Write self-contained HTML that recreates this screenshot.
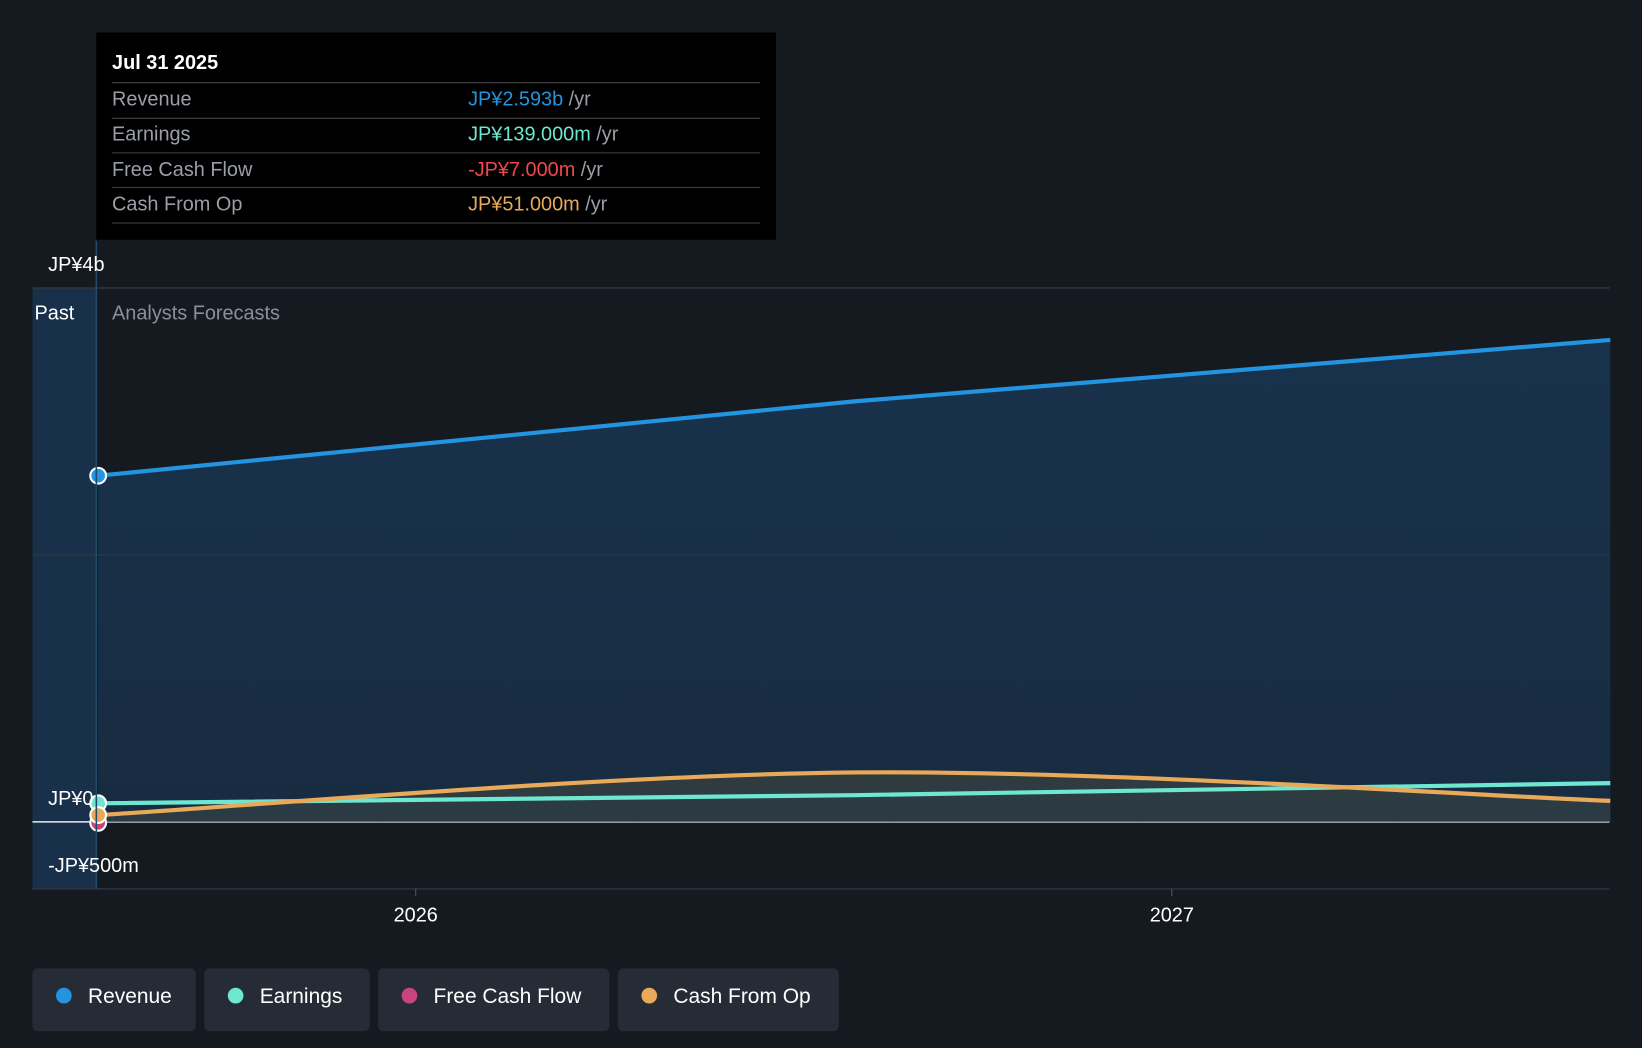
<!DOCTYPE html>
<html><head><meta charset="utf-8"><style>
html,body{margin:0;padding:0;background:#151a21;}
svg{display:block;font-family:"Liberation Sans",Roboto,sans-serif;}
</style></head><body>
<svg id="c" width="1642" height="1048" viewBox="0 0 1568 1001" preserveAspectRatio="none" xmlns="http://www.w3.org/2000/svg">
<defs>
<linearGradient id="revg" x1="0" y1="0" x2="0" y2="1"><stop offset="0" stop-color="#1a3a5a" stop-opacity="0.75"/><stop offset="1" stop-color="#1a3a5a" stop-opacity="0.55"/></linearGradient>
<linearGradient id="cfg" x1="0" y1="0" x2="0" y2="1"><stop offset="0" stop-color="#4a4a3a" stop-opacity="0.5"/><stop offset="1" stop-color="#3a4a4a" stop-opacity="0.5"/></linearGradient>
</defs>
<rect width="1568" height="1001" fill="#151a21"/>
<rect x="31" y="275" width="61" height="574" fill="#18304a"/>
<g id="grid"></g>
<g id="marks"></g>
<line x1="92" y1="230" x2="92" y2="849" stroke="#234a68" stroke-width="1.5"/>
<text x="33" y="305" fill="#fff" font-size="19">Past</text>
<text x="107" y="305" fill="#8a8f98" font-size="19">Analysts Forecasts</text>
<g id="axis"></g>
<g>
<rect x="92" y="31" width="649" height="198" fill="#000"/>
<text x="107" y="66" fill="#fff" font-size="19" font-weight="bold">Jul 31 2025</text>
<line x1="107" y1="79" x2="726" y2="79" stroke="#444"/>
<text x="107" y="101" fill="#9a9ea6" font-size="19">Revenue</text>
<text x="447" y="101" font-size="19"><tspan fill="#2394df">JP¥2.593b</tspan><tspan fill="#9a9ea6"> /yr</tspan></text>
<line x1="107" y1="113" x2="726" y2="113" stroke="#444"/>
<text x="107" y="134" fill="#9a9ea6" font-size="19">Earnings</text>
<text x="447" y="134" font-size="19"><tspan fill="#6ee7d0">JP¥139.000m</tspan><tspan fill="#9a9ea6"> /yr</tspan></text>
<line x1="107" y1="146" x2="726" y2="146" stroke="#444"/>
<text x="107" y="168" fill="#9a9ea6" font-size="19">Free Cash Flow</text>
<text x="447" y="168" font-size="19"><tspan fill="#f0474a">-JP¥7.000m</tspan><tspan fill="#9a9ea6"> /yr</tspan></text>
<line x1="107" y1="179" x2="726" y2="179" stroke="#444"/>
<text x="107" y="201" fill="#9a9ea6" font-size="19">Cash From Op</text>
<text x="447" y="201" font-size="19"><tspan fill="#e8aa5a">JP¥51.000m</tspan><tspan fill="#9a9ea6"> /yr</tspan></text>
<line x1="107" y1="213" x2="726" y2="213" stroke="#444"/>
</g>
<g id="legend"></g>
</svg>
<script>
const dates = [2025.58, 2026.58, 2027.58];
const revenue = [2.593, 3.15, 3.61];
const earnings = [0.139, 0.20, 0.29];
const cashFromOp = [0.051, 0.37, 0.157];
const fcfDates = [2025.58];
const fcf = [-0.007];
const yTicks = [4, 2, 0, -0.5];
const yTickLabels = ["JP¥4b", "", "JP¥0", "-JP¥500m"];
const xTicks = [2026, 2027];
const legendNames = ["Revenue", "Earnings", "Free Cash Flow", "Cash From Op"];
const legendColors = ["#2394df", "#6ee7d0", "#c8447f", "#e8aa5a"];

const NS = "http://www.w3.org/2000/svg";
const X = d => 397 + (d - 2026) * 722;
const Y = v => 785 - v * 127.5;
function mk(tag, attrs, parent){const e=document.createElementNS(NS,tag);for(const k in attrs)e.setAttribute(k,attrs[k]);parent.appendChild(e);return e;}
const grid=document.getElementById('grid'), marks=document.getElementById('marks'), axis=document.getElementById('axis'), legend=document.getElementById('legend');

yTicks.forEach((t,i)=>{
  if(t===-0.5) return;
  const l=mk('line',{x1:31,x2:1537,y1:Y(t),y2:Y(t),stroke:t===0?'#e8ecf0':'#2c3440','stroke-width':1.5},grid);
  
  
});
yTicks.forEach((t,i)=>{
  if(!yTickLabels[i]) return;
  const y = t===-0.5 ? 833 : Y(t)-16;
  const tx=mk('text',{x:46,y:y,fill:'#fff','font-size':19},axis);
  tx.textContent=yTickLabels[i];
  
  
});
mk('line',{x1:31,x2:1537,y1:849,y2:849,stroke:'#2c3440','stroke-width':1.5},grid);
xTicks.forEach(t=>{
  mk('line',{x1:X(t),x2:X(t),y1:849,y2:856,stroke:'#555'},axis);
  const tx=mk('text',{x:X(t),y:880,fill:'#fff','font-size':19,'text-anchor':'middle'},axis);
  tx.textContent=String(t);
  
  
});

function curve(ds, vs){
  const p=ds.map((d,i)=>[X(d),Y(vs[i])]);
  let s=`M${p[0][0]},${p[0][1]}`;
  for(let i=0;i<p.length-1;i++){
    const p0=p[i-1]||p[i], p1=p[i], p2=p[i+1], p3=p[i+2]||p2;
    const c1=[p1[0]+(p2[0]-p0[0])/6, p1[1]+(p2[1]-p0[1])/6];
    const c2=[p2[0]-(p3[0]-p1[0])/6, p2[1]-(p3[1]-p1[1])/6];
    s+=` C${c1[0]},${c1[1]} ${c2[0]},${c2[1]} ${p2[0]},${p2[1]}`;
  }
  return s;
}
function linear(ds,vs){return ds.map((d,i)=>(i?'L':'M')+X(d)+','+Y(vs[i])).join(' ');}
const x0=X(dates[0]), x1=X(dates[dates.length-1]);
const ra=mk('path',{d:linear(dates,revenue)+` L${x1},${Y(0)} L${x0},${Y(0)} Z`,fill:'url(#revg)'},marks);


const ca=mk('path',{d:curve(dates,cashFromOp)+` L${x1},${Y(0)} L${x0},${Y(0)} Z`,fill:'url(#cfg)'},marks);


const rl=mk('path',{d:linear(dates,revenue),fill:'none',stroke:'#2394df','stroke-width':4},marks);


const el=mk('path',{d:linear(dates,earnings),fill:'none',stroke:'#6ee7d0','stroke-width':4},marks);


const cl=mk('path',{d:curve(dates,cashFromOp),fill:'none',stroke:'#e8aa5a','stroke-width':4},marks);


function dot(x,y,c,name){const d=mk('circle',{cx:x,cy:y,r:7.5,fill:c,stroke:'#fff','stroke-width':2},marks);
  
  }
dot(X(fcfDates[0]),Y(fcf[0]),'#c8447f','fcf-point');
dot(X(dates[0]),Y(earnings[0]),'#6ee7d0','earnings-point');
dot(X(dates[0]),Y(cashFromOp[0]),'#e8aa5a','cash-from-op-point');
dot(X(dates[0]),Y(revenue[0]),'#2394df','revenue-point');

const widths=[156,158,221,211];
let lx=31;
legendNames.forEach((n,i)=>{
  const g=mk('g',{},legend);
  
  
  mk('rect',{x:lx,y:925,width:widths[i],height:60,rx:5,fill:'#262c36'},g);
  mk('circle',{cx:lx+30,cy:951,r:7.5,fill:legendColors[i]},g);
  const t=mk('text',{x:lx+53,y:958,fill:'#fff','font-size':20},g);
  t.textContent=n;
  lx+=widths[i]+8;
});
</script>
</body></html>
